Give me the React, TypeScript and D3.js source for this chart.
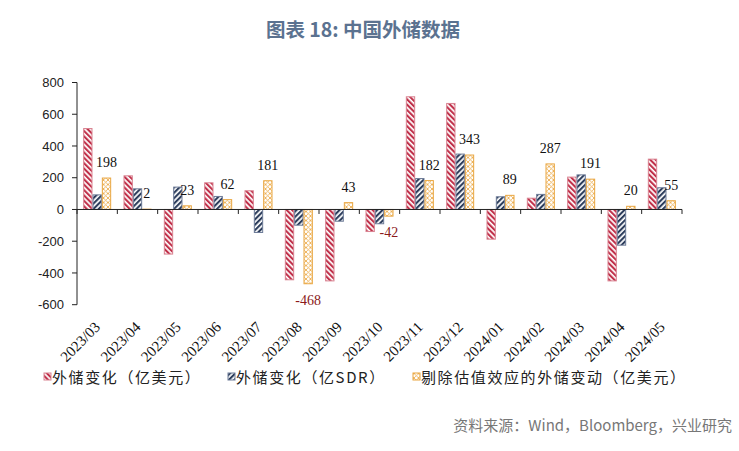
import React from "react";
import * as d3 from "d3";

const categories = [
  "2023/03", "2023/04", "2023/05", "2023/06", "2023/07", "2023/08", "2023/09", "2023/10",
  "2023/11", "2023/12", "2024/01", "2024/02", "2024/03", "2024/04", "2024/05",
];
const usdChange = [510, 212, -281, 168, 118, -443, -450, -139, 710, 668, -187, 71, 204, -450, 317];
const sdrChange = [92, 130, 141, 82, -145, -99, -74, -90, 195, 349, 80, 95, 218, -225, 137];
const adjChange = [198, 2, 23, 62, 181, -468, 43, -42, 182, 343, 89, 287, 191, 20, 55];
const seriesNames = ["外储变化（亿美元）", "外储变化（亿SDR）", "剔除估值效应的外储变动（亿美元）"];
const yTicks = [-600, -400, -200, 0, 200, 400, 600, 800];

const W = 739;
const H = 451;

export default function App() {
  const x0 = d3.scaleBand<string>().domain(categories).range([77, 682]);
  const x1 = d3.scaleBand<string>().domain(["a", "b", "c"]).range([0, x0.bandwidth()]).paddingOuter(0.66);
  const y = d3.scaleLinear().domain([-600, 800]).range([304.7, 82.5]);
  const y0 = y(0);

  const series = [
    { key: "a", values: usdChange, fill: "url(#pRed)", stroke: "#D98391" },
    { key: "b", values: sdrChange, fill: "url(#pNavy)", stroke: "#6E7C98" },
    { key: "c", values: adjChange, fill: "url(#pOrange)", stroke: "#E9A640" },
  ];

  const boundaries = [...categories.map((c) => x0(c)!), 682];

  const legendX = [44, 228, 413];

  return (
    <svg width={W} height={H} style={{ position: "absolute", left: 0, top: 0, background: "#fff" }}>
      <defs>
        <pattern id="pRed" patternUnits="userSpaceOnUse" width={3.8} height={3.8} patternTransform="rotate(-45)">
          <rect x={0} y={0} width={3.8} height={3.8} fill="#fff" />
          <rect x={0} y={0} width={2.1} height={3.8} fill="#C0304A" />
        </pattern>
        <pattern id="pNavy" patternUnits="userSpaceOnUse" width={3.8} height={3.8} patternTransform="rotate(45)">
          <rect x={0} y={0} width={3.8} height={3.8} fill="#fff" />
          <rect x={0} y={0} width={2.1} height={3.8} fill="#2C3D5C" />
        </pattern>
        <pattern id="pOrange" patternUnits="userSpaceOnUse" width={4.5} height={4.5}>
          <rect x={0} y={0} width={4.5} height={4.5} fill="#fff" />
          <path d="M0,0 L4.5,4.5 M4.5,0 L0,4.5" stroke="#E9A640" strokeWidth={0.8} />
        </pattern>
      </defs>

      <text x={363} y={37} textAnchor="middle" fontFamily="Noto Sans CJK SC" fontWeight="bold" fontSize={19.5} fill="#5B7290">
        图表 18: 中国外储数据
      </text>

      {series.map((s) =>
        s.values.map((v, i) => {
          const x = x0(categories[i])! + x1(s.key)!;
          const yy = Math.min(y(v), y0);
          const h = Math.abs(y(v) - y0);
          return (
            <rect
              key={s.key + i}
              x={x + 0.5}
              y={yy}
              width={x1.bandwidth() - 1}
              height={h}
              fill={s.fill}
              stroke={s.stroke}
              strokeWidth={1}
            />
          );
        })
      )}

      {adjChange.map((v, i) => {
        const cx = x0(categories[i])! + x1("c")! + x1.bandwidth() / 2;
        const ty = v >= 0 ? y(v) - 11 : y(v) + 21;
        return (
          <text
            key={"l" + i}
            x={cx}
            y={ty}
            textAnchor="middle"
            fontFamily="Liberation Serif"
            fontSize={14}
            fill={v < 0 ? "#8B1A1A" : "#111"}
          >
            {v}
          </text>
        );
      })}

      {/* y axis */}
      <line x1={77} x2={77} y1={y(800)} y2={y(-600)} stroke="#222" strokeWidth={1} />
      {yTicks.map((t) => (
        <g key={"yt" + t}>
          <line x1={72} x2={77} y1={y(t)} y2={y(t)} stroke="#222" strokeWidth={1} />
          <text x={64} y={y(t)} dy="0.35em" textAnchor="end" fontFamily="Liberation Sans" fontSize={13} fill="#222">
            {t}
          </text>
        </g>
      ))}

      {/* x axis */}
      <line x1={77} x2={682} y1={y0} y2={y0} stroke="#222" strokeWidth={1} />
      {boundaries.map((b, i) => (
        <line key={"xt" + i} x1={b} x2={b} y1={y0} y2={y0 + 4.5} stroke="#222" strokeWidth={1} />
      ))}
      {categories.map((c) => {
        const cx = x0(c)! + x0.bandwidth() / 2 + 4;
        return (
          <text
            key={"xl" + c}
            transform={`translate(${cx},328) rotate(-45)`}
            textAnchor="end"
            fontFamily="Liberation Serif"
            fontSize={15}
            fill="#111"
          >
            {c}
          </text>
        );
      })}

      {/* legend */}
      {seriesNames.map((n, i) => (
        <g key={"lg" + i}>
          <rect x={legendX[i]} y={373} width={7} height={7} fill={series[i].fill} stroke={series[i].stroke} strokeWidth={1} />
          <text x={legendX[i] + 8} y={383} fontFamily="Noto Sans CJK SC" fontSize={15} letterSpacing={1.6} fill="#222">
            {n}
          </text>
        </g>
      ))}

      <text x={732} y={431} textAnchor="end" fontFamily="Noto Sans CJK SC" fontSize={15} fill="#777">
        资料来源：Wind，Bloomberg，兴业研究
      </text>
    </svg>
  );
}
